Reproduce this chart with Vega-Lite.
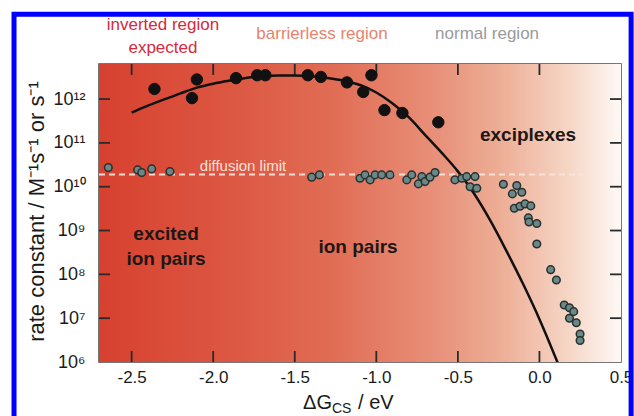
{
  "$schema": "https://vega.github.io/schema/vega-lite/v6.json",
  "width": 522,
  "height": 298,
  "autosize": {"type": "none"},
  "padding": {"left": 99, "top": 64, "right": 13, "bottom": 54},
  "background": "#ffffff",
  "config": {
    "font": "Liberation Sans",
    "view": {"stroke": "#4a4a4a", "strokeWidth": 1.5},
    "axis": {"grid": false, "domain": false}
  },
  "datasets": {
    "xticks": [{"v": -2.5}, {"v": -2.0}, {"v": -1.5}, {"v": -1.0}, {"v": -0.5}, {"v": 0.0}],
    "yticks": [{"v": 1e7}, {"v": 1e8}, {"v": 1e9}, {"v": 1e10}, {"v": 1e11}, {"v": 1e12}],
    "curve": [
      {"x": -2.5, "k": 4.9e11}, {"x": -2.4, "k": 7.1e11}, {"x": -2.3, "k": 9.8e11},
      {"x": -2.2, "k": 1.35e12}, {"x": -2.1, "k": 1.82e12}, {"x": -2.0, "k": 2.24e12},
      {"x": -1.9, "k": 2.63e12}, {"x": -1.8, "k": 3.02e12}, {"x": -1.7, "k": 3.31e12},
      {"x": -1.6, "k": 3.47e12}, {"x": -1.5, "k": 3.47e12}, {"x": -1.4, "k": 3.31e12},
      {"x": -1.3, "k": 3.02e12}, {"x": -1.2, "k": 2.63e12}, {"x": -1.1, "k": 2.09e12},
      {"x": -1.0, "k": 1.41e12}, {"x": -0.9, "k": 7.9e11}, {"x": -0.8, "k": 3.8e11},
      {"x": -0.7, "k": 1.51e11}, {"x": -0.6, "k": 6.0e10}, {"x": -0.5, "k": 2.24e10},
      {"x": -0.4, "k": 6.9e9}, {"x": -0.3, "k": 1.66e9}, {"x": -0.2, "k": 3.3e8},
      {"x": -0.1, "k": 6.0e7}, {"x": 0.0, "k": 9.5e6}, {"x": 0.115, "k": 9.0e5}
    ],
    "pts": [
      {"x": -2.36, "k": 1.7e12, "type": "black"},
      {"x": -2.10, "k": 2.8e12, "type": "black"},
      {"x": -2.13, "k": 1.05e12, "type": "black"},
      {"x": -1.86, "k": 3.0e12, "type": "black"},
      {"x": -1.73, "k": 3.5e12, "type": "black"},
      {"x": -1.68, "k": 3.5e12, "type": "black"},
      {"x": -1.42, "k": 3.5e12, "type": "black"},
      {"x": -1.34, "k": 3.2e12, "type": "black"},
      {"x": -1.18, "k": 2.4e12, "type": "black"},
      {"x": -1.03, "k": 3.5e12, "type": "black"},
      {"x": -1.08, "k": 1.45e12, "type": "black"},
      {"x": -0.95, "k": 5.6e11, "type": "black"},
      {"x": -0.84, "k": 4.8e11, "type": "black"},
      {"x": -0.62, "k": 2.95e11, "type": "black"},
      {"x": -2.643, "k": 2.73e10, "type": "gray"},
      {"x": -2.463, "k": 2.42e10, "type": "gray"},
      {"x": -2.438, "k": 2.10e10, "type": "gray"},
      {"x": -2.377, "k": 2.55e10, "type": "gray"},
      {"x": -2.265, "k": 2.21e10, "type": "gray"},
      {"x": -1.396, "k": 1.65e10, "type": "gray"},
      {"x": -1.349, "k": 1.86e10, "type": "gray"},
      {"x": -1.100, "k": 1.56e10, "type": "gray"},
      {"x": -1.069, "k": 1.86e10, "type": "gray"},
      {"x": -1.038, "k": 1.43e10, "type": "gray"},
      {"x": -1.008, "k": 1.86e10, "type": "gray"},
      {"x": -0.967, "k": 1.86e10, "type": "gray"},
      {"x": -0.916, "k": 1.86e10, "type": "gray"},
      {"x": -0.813, "k": 1.43e10, "type": "gray"},
      {"x": -0.783, "k": 1.86e10, "type": "gray"},
      {"x": -0.742, "k": 1.16e10, "type": "gray"},
      {"x": -0.721, "k": 1.70e10, "type": "gray"},
      {"x": -0.701, "k": 1.31e10, "type": "gray"},
      {"x": -0.671, "k": 1.65e10, "type": "gray"},
      {"x": -0.640, "k": 2.10e10, "type": "gray"},
      {"x": -0.518, "k": 1.43e10, "type": "gray"},
      {"x": -0.476, "k": 1.56e10, "type": "gray"},
      {"x": -0.446, "k": 1.70e10, "type": "gray"},
      {"x": -0.425, "k": 1.00e10, "type": "gray"},
      {"x": -0.395, "k": 1.70e10, "type": "gray"},
      {"x": -0.384, "k": 9.25e9, "type": "gray"},
      {"x": -0.221, "k": 1.14e10, "type": "gray"},
      {"x": -0.139, "k": 1.06e10, "type": "gray"},
      {"x": -0.166, "k": 6.86e9, "type": "gray"},
      {"x": -0.108, "k": 7.48e9, "type": "gray"},
      {"x": -0.154, "k": 3.23e9, "type": "gray"},
      {"x": -0.119, "k": 3.59e9, "type": "gray"},
      {"x": -0.088, "k": 4.05e9, "type": "gray"},
      {"x": -0.053, "k": 3.65e9, "type": "gray"},
      {"x": -0.068, "k": 1.94e9, "type": "gray"},
      {"x": -0.064, "k": 1.57e9, "type": "gray"},
      {"x": -0.016, "k": 1.45e9, "type": "gray"},
      {"x": -0.016, "k": 4.94e8, "type": "gray"},
      {"x": 0.069, "k": 1.28e8, "type": "gray"},
      {"x": 0.104, "k": 7.45e7, "type": "gray"},
      {"x": 0.152, "k": 2.0e7, "type": "gray"},
      {"x": 0.184, "k": 1.73e7, "type": "gray"},
      {"x": 0.210, "k": 1.41e7, "type": "gray"},
      {"x": 0.184, "k": 9.95e6, "type": "gray"},
      {"x": 0.226, "k": 7.89e6, "type": "gray"},
      {"x": 0.249, "k": 4.36e6, "type": "gray"},
      {"x": 0.249, "k": 3.10e6, "type": "gray"}
    ],
    "notes": [
      {"x": -2.289, "k": 8.34e8, "text": "excited", "kind": "inside"},
      {"x": -2.289, "k": 2.24e8, "text": "ion pairs", "kind": "inside"},
      {"x": -1.112, "k": 4.21e8, "text": "ion pairs", "kind": "inside"},
      {"x": -0.070, "k": 1.51e11, "text": "exciplexes", "kind": "inside"},
      {"x": -1.817, "k": 2.97e10, "text": "diffusion limit", "kind": "diff"},
      {"x": -2.308, "k": 5.0e13, "text": "inverted region", "kind": "inv"},
      {"x": -2.308, "k": 1.45e13, "text": "expected", "kind": "inv"},
      {"x": -1.333, "k": 3.0e13, "text": "barrierless region", "kind": "bar"},
      {"x": -0.321, "k": 3.0e13, "text": "normal region", "kind": "norm"},
      {"x": -1.272, "k": 1.16e5, "text": "ΔG", "kind": "xt1"},
      {"x": -1.272, "k": 8.45e4, "text": "CS", "kind": "xt2"},
      {"x": -1.112, "k": 1.16e5, "text": "/ eV", "kind": "xt3"}
    ]
  },
  "layer": [
    {
      "data": {"values": [{}]},
      "mark": {
        "type": "rect",
        "fill": {
          "gradient": "linear", "x1": 0, "y1": 0, "x2": 1, "y2": 0,
          "stops": [
            {"offset": 0, "color": "#d7412f"},
            {"offset": 0.25, "color": "#dc5742"},
            {"offset": 0.45, "color": "#e16d55"},
            {"offset": 0.65, "color": "#e8917a"},
            {"offset": 0.77, "color": "#edae96"},
            {"offset": 0.9, "color": "#f6d6c6"},
            {"offset": 1, "color": "#fef9f6"}
          ]
        }
      },
      "encoding": {
        "x": {
          "datum": -2.7, "type": "quantitative",
          "scale": {"type": "linear", "domain": [-2.7, 0.5], "nice": false, "zero": false},
          "axis": {
            "orient": "bottom", "values": [-2.5, -2, -1.5, -1, -0.5, 0, 0.5],
            "labelExpr": "replace(format(datum.value, '.1f'), '−', '-')",
            "labelFontSize": 17, "labelColor": "#1a1a1a", "labelPadding": 7,
            "labelFlush": false, "labelOverlap": false,
            "ticks": false, "title": null
          }
        },
        "x2": {"datum": 0.5},
        "y": {
          "datum": 1000000, "type": "quantitative",
          "scale": {"type": "log", "domain": [1000000, 6310000000000], "nice": false},
          "axis": {
            "orient": "left",
            "values": [1e6, 1e7, 1e8, 1e9, 1e10, 1e11, 1e12],
            "labelExpr": "'10' + ['⁰','¹','²','³','⁴','⁵','⁶','⁷','⁸','⁹','¹⁰','¹¹','¹²','¹³'][round(log(datum.value)/LN10)]",
            "labelFontSize": 18, "labelColor": "#1a1a1a", "labelPadding": 14,
            "labelFlush": false, "labelOverlap": false,
            "ticks": false,
            "title": "rate constant / M⁻¹s⁻¹ or s⁻¹",
            "titleFontSize": 22, "titleFontWeight": "normal", "titleColor": "#1a1a1a",
            "titleX": -63, "titleY": 147, "titleAngle": -90,
            "titleAlign": "center", "titleBaseline": "middle"
          }
        },
        "y2": {"datum": 6310000000000}
      }
    },
    {
      "data": {"name": "xticks"},
      "mark": {"type": "tick", "orient": "vertical", "size": 22, "thickness": 1.8, "color": "#2a2a2a", "opacity": 1, "clip": true},
      "encoding": {
        "x": {"field": "v", "type": "quantitative"},
        "y": {"datum": 1000000, "type": "quantitative"}
      }
    },
    {
      "data": {"name": "xticks"},
      "mark": {"type": "tick", "orient": "vertical", "size": 22, "thickness": 1.8, "color": "#2a2a2a", "opacity": 1, "clip": true},
      "encoding": {
        "x": {"field": "v", "type": "quantitative"},
        "y": {"datum": 6310000000000, "type": "quantitative"}
      }
    },
    {
      "data": {"name": "yticks"},
      "mark": {"type": "tick", "orient": "horizontal", "size": 22, "thickness": 1.8, "color": "#2a2a2a", "opacity": 1, "clip": true},
      "encoding": {
        "y": {"field": "v", "type": "quantitative"},
        "x": {"datum": -2.7, "type": "quantitative"}
      }
    },
    {
      "data": {"name": "yticks"},
      "mark": {"type": "tick", "orient": "horizontal", "size": 22, "thickness": 1.8, "color": "#2a2a2a", "opacity": 1, "clip": true},
      "encoding": {
        "y": {"field": "v", "type": "quantitative"},
        "x": {"datum": 0.5, "type": "quantitative"}
      }
    },
    {
      "data": {"values": [{}]},
      "mark": {"type": "rule", "stroke": "#f8e4dc", "strokeWidth": 2, "strokeDash": [6, 4], "opacity": 0.95},
      "encoding": {
        "x": {"datum": -2.7, "type": "quantitative"},
        "x2": {"datum": 0.3},
        "y": {"datum": 19000000000, "type": "quantitative"}
      }
    },
    {
      "data": {"name": "curve"},
      "mark": {"type": "line", "stroke": "#111111", "strokeWidth": 2.5, "interpolate": "monotone", "clip": true},
      "encoding": {
        "x": {"field": "x", "type": "quantitative"},
        "y": {"field": "k", "type": "quantitative"}
      }
    },
    {
      "data": {"name": "pts"},
      "transform": [{"filter": "datum.type === 'gray'"}],
      "mark": {"type": "point", "shape": "circle", "filled": true, "fill": "#6d8686", "stroke": "#253232", "strokeWidth": 1.5, "size": 58, "opacity": 1},
      "encoding": {
        "x": {"field": "x", "type": "quantitative"},
        "y": {"field": "k", "type": "quantitative"}
      }
    },
    {
      "data": {"name": "pts"},
      "transform": [{"filter": "datum.type === 'black'"}],
      "mark": {"type": "point", "shape": "circle", "filled": true, "fill": "#111111", "stroke": "#111111", "strokeWidth": 1, "size": 130, "opacity": 1},
      "encoding": {
        "x": {"field": "x", "type": "quantitative"},
        "y": {"field": "k", "type": "quantitative"}
      }
    },
    {
      "data": {"name": "notes"},
      "transform": [{"filter": "datum.kind === 'inside'"}],
      "mark": {"type": "text", "fontSize": 19, "fontWeight": "bold", "color": "#1e1614", "align": "center", "baseline": "middle"},
      "encoding": {
        "x": {"field": "x", "type": "quantitative"},
        "y": {"field": "k", "type": "quantitative"},
        "text": {"field": "text"}
      }
    },
    {
      "data": {"name": "notes"},
      "transform": [{"filter": "datum.kind === 'diff'"}],
      "mark": {"type": "text", "fontSize": 15, "color": "#f9e2d9", "align": "center", "baseline": "middle"},
      "encoding": {
        "x": {"field": "x", "type": "quantitative"},
        "y": {"field": "k", "type": "quantitative"},
        "text": {"field": "text"}
      }
    },
    {
      "data": {"name": "notes"},
      "transform": [{"filter": "datum.kind === 'inv'"}],
      "mark": {"type": "text", "fontSize": 17, "color": "#d42a3c", "align": "center", "baseline": "middle"},
      "encoding": {
        "x": {"field": "x", "type": "quantitative"},
        "y": {"field": "k", "type": "quantitative"},
        "text": {"field": "text"}
      }
    },
    {
      "data": {"name": "notes"},
      "transform": [{"filter": "datum.kind === 'bar'"}],
      "mark": {"type": "text", "fontSize": 17, "color": "#e8836e", "align": "center", "baseline": "middle"},
      "encoding": {
        "x": {"field": "x", "type": "quantitative"},
        "y": {"field": "k", "type": "quantitative"},
        "text": {"field": "text"}
      }
    },
    {
      "data": {"name": "notes"},
      "transform": [{"filter": "datum.kind === 'norm'"}],
      "mark": {"type": "text", "fontSize": 17, "color": "#9a9a9a", "align": "center", "baseline": "middle"},
      "encoding": {
        "x": {"field": "x", "type": "quantitative"},
        "y": {"field": "k", "type": "quantitative"},
        "text": {"field": "text"}
      }
    },
    {
      "data": {"name": "notes"},
      "transform": [{"filter": "datum.kind === 'xt1'"}],
      "mark": {"type": "text", "fontSize": 20, "color": "#1a1a1a", "align": "right", "baseline": "middle"},
      "encoding": {
        "x": {"field": "x", "type": "quantitative"},
        "y": {"field": "k", "type": "quantitative"},
        "text": {"field": "text"}
      }
    },
    {
      "data": {"name": "notes"},
      "transform": [{"filter": "datum.kind === 'xt2'"}],
      "mark": {"type": "text", "fontSize": 14, "color": "#1a1a1a", "align": "left", "baseline": "middle"},
      "encoding": {
        "x": {"field": "x", "type": "quantitative"},
        "y": {"field": "k", "type": "quantitative"},
        "text": {"field": "text"}
      }
    },
    {
      "data": {"name": "notes"},
      "transform": [{"filter": "datum.kind === 'xt3'"}],
      "mark": {"type": "text", "fontSize": 20, "color": "#1a1a1a", "align": "left", "baseline": "middle"},
      "encoding": {
        "x": {"field": "x", "type": "quantitative"},
        "y": {"field": "k", "type": "quantitative"},
        "text": {"field": "text"}
      }
    },
    {
      "data": {"values": [{}]},
      "mark": {"type": "rect", "fill": null, "stroke": "#0000ff", "strokeWidth": 5, "clip": false},
      "encoding": {
        "x": {"datum": -3.221, "type": "quantitative"},
        "x2": {"datum": 0.562},
        "y": {"datum": 86000000000000, "type": "quantitative"},
        "y2": {"datum": 28000}
      }
    }
  ]
}
